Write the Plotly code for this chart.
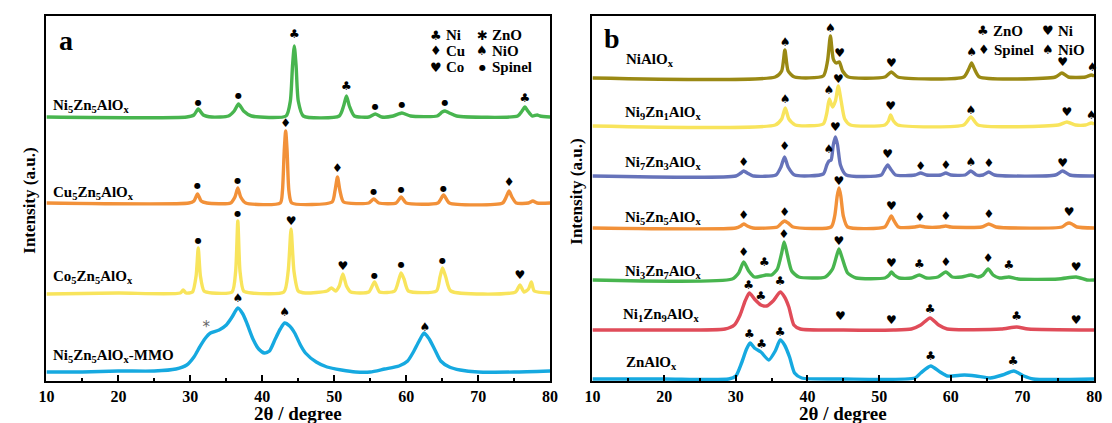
import plotly.graph_objects as go

# ---------------- Panel a data: (2θ, stacked intensity a.u.) ----------------
A_NI5 = [(10,264),(29.5,264),(30.5,266),(31.1,272),(31.8,266),(33,264),(35.3,265),(36.1,270),(36.7,277),(37.4,270),
         (38.5,265),(43.3,265),(43.9,280),(44.2,315),(44.45,335),(44.7,315),(45.0,280),(45.7,265),(50.7,265),(51.3,275),
         (51.7,285),(52.1,275),(52.8,265),(54.8,264),(55.7,267),(56.6,264),(58.2,265),(59.4,268),(60.6,265),(64.3,265),
         (65.0,269),(65.4,270),(66.0,268),(67.0,265),(75.5,265),(76.1,270),(76.5,274),(76.9,270),(77.5,265),(78.2,266),
         (78.6,265),(80,264)]
A_CU5 = [(10,178),(29.8,178),(30.5,180),(31.0,187),(31.5,180),(32.3,178),(35.6,178),(36.2,184),(36.6,193),(37.0,184),
         (37.7,178),(42.5,178),(42.8,190),(43.05,230),(43.25,250),(43.45,230),(43.7,190),(44.1,178),(49.7,179),(50.1,190),
         (50.45,204),(50.8,190),(51.3,179),(54.8,178),(55.5,182),(56.2,178),(58.6,178),(59.3,184),(60.0,178),(64.4,178),
         (65.2,186),(66.0,178),(73.4,178),(73.9,184),(74.3,190),(74.7,184),(75.3,178),(77.0,178),(77.6,180),(78.2,178),(80,178)]
A_CO5 = [(10,87),(20,88),(28.6,88),(29.0,91),(29.4,88),(30.3,89),(30.8,105),(31.1,133),(31.4,105),(31.9,90),(33,88),
         (35.8,89),(36.3,110),(36.6,160),(36.9,110),(37.4,90),(38.5,88),(43.0,89),(43.6,110),(44.0,152),(44.4,110),(45.0,90),
         (46,88),(49.0,90),(49.6,93),(50.2,90),(50.7,95),(51.2,107),(51.7,95),(52.3,89),(54.8,89),(55.6,99),(56.3,89),
         (58.4,90),(59.0,102),(59.3,108),(59.7,102),(60.3,90),(64.2,90),(64.7,104),(65.05,113),(65.5,104),(66.2,90),
         (75.2,89),(75.8,96),(76.4,89),(77.0,92),(77.4,99),(77.8,90),(80,88)]
A_MMO = [(10,9),(15,9),(20,10),(25,10),(28,12),(29.5,16),(30.5,24),(31.3,34),(32.0,42),(32.8,48),(34.0,51),(35.0,56),
         (35.8,64),(36.6,73),(37.3,67),(37.9,57),(38.7,42),(39.5,32),(40.3,28),(41.0,30),(41.8,42),(42.5,52),(43.1,58),
         (43.8,55),(44.5,48),(45.3,36),(46.0,28),(47.5,19),(49.0,14),(51,11),(53,9),(55,9),(57,12),(59,15),(60.2,20),
         (61.0,29),(61.8,40),(62.5,48),(63.2,42),(64.0,31),(64.8,20),(66.0,14),(67.5,11),(70,9),(75,9),(80,10)]

CLUB, DIAM, HEART, SPADE, DOT, STAR = "♣", "♦", "♥", "♠", "●", "*"

A_NI5_MK = [(DOT,31.1,278),(DOT,36.7,285),(CLUB,44.45,346),(CLUB,51.7,294),(DOT,55.7,274),(DOT,59.4,276),(DOT,65.4,278),(CLUB,76.5,282)]
A_CU5_MK = [(DOT,31.0,195),(DOT,36.6,200),(DIAM,43.25,257),(DIAM,50.45,212),(DOT,55.5,189),(DOT,59.3,191),(DOT,65.2,192),(DIAM,74.3,198)]
A_CO5_MK = [(DOT,31.1,140),(DOT,36.6,167),(HEART,44.0,159),(HEART,51.2,114),(DOT,55.6,105),(DOT,59.3,116),(DOT,65.05,120),(HEART,75.8,105)]
A_MMO_MK = [(SPADE,36.6,82),(SPADE,43.1,68),(SPADE,62.6,53)]
A_MMO_STAR = [(STAR,32.2,53)]

# ---------------- Panel b data ----------------
B_NI = [(10,303),(35.5,304),(36.4,310),(36.85,331),(37.3,310),(38.2,304),(42.2,305),(42.8,320),(43.2,345),(43.6,322),
        (44.0,318),(44.45,319),(44.9,310),(45.7,304),(50.8,304),(51.7,309),(52.6,304),(61.8,304),(62.5,312),(62.9,318),
        (63.3,312),(64.0,304),(74.6,304),(75.5,308),(76.4,304),(78.8,304),(79.6,306),(80,305)]
B_NI9 = [(10,255),(35.5,256),(36.4,262),(36.9,273),(37.4,262),(38.3,256),(42.2,257),(42.7,268),(43.05,282),(43.5,274),
         (43.9,280),(44.3,295),(44.7,280),(45.2,262),(46.0,256),(50.8,256),(51.3,260),(51.6,266),(52.0,260),(52.6,256),
         (61.8,256),(62.8,264),(63.8,256),(75.0,256),(76.2,259),(77.4,256),(78.8,256),(79.6,258),(80,257)]
B_NI7 = [(10,205),(30.0,205),(30.7,208),(31.1,210),(31.6,208),(32.5,205),(35.6,206),(36.3,214),(36.8,224),(37.3,214),
         (38.2,206),(42.2,207),(42.7,216),(43.0,220),(43.3,221),(43.6,236),(43.9,244),(44.2,236),(44.6,216),(45.4,206),
         (50.3,206),(50.8,212),(51.2,216),(51.6,212),(52.3,206),(55.0,206),(55.8,208),(56.6,206),(58.6,206),(59.3,208),
         (60.0,206),(62.0,206),(62.8,210),(63.6,206),(64.5,206),(65.3,209),(66.1,206),(74.6,206),(75.6,210),(76.6,206),(80,205)]
B_NI5 = [(10,153),(30.0,153),(30.7,155),(31.1,157),(31.6,155),(32.4,153),(35.8,154),(36.4,158),(36.8,160),(37.3,158),
         (38.0,154),(43.3,154),(43.8,165),(44.15,185),(44.4,193),(44.65,185),(45.0,165),(45.6,154),(50.8,154),(51.3,160),
         (51.7,165),(52.1,160),(52.7,154),(55.0,154),(55.7,155),(56.4,154),(58.5,154),(59.3,155),(60.0,154),(64.3,154),
         (65.3,157),(66.3,154),(75.5,154),(76.1,157),(76.5,158),(76.9,157),(77.6,154),(80,153)]
B_NI3 = [(10,101),(29.5,102),(30.4,108),(31.1,119),(31.8,110),(32.6,104),(33.6,105),(34.2,106),(35.0,106),(35.8,112),
         (36.4,128),(36.75,139),(37.2,126),(37.8,110),(38.8,104),(42.5,104),(43.5,112),(44.1,126),(44.4,132),(44.8,124),
         (45.6,108),(46.8,103),(50.8,103),(51.4,106),(51.7,109),(52.1,106),(52.8,103),(54.5,103),(55.6,106),(56.6,103),
         (58.2,104),(59.3,109),(60.2,104),(61.5,104),(62.8,106),(63.8,104),(64.5,106),(65.2,112),(65.9,106),(66.8,103),
         (68.1,104),(69.4,102),(75,102),(77.5,104),(79,101),(80,101)]
B_NI1 = [(10,51),(20,51),(28.5,52),(29.8,56),(30.6,66),(31.3,80),(31.9,88),(32.6,82),(33.5,76),(34.3,75),(35.2,80),
         (36.2,89),(36.8,84),(37.4,74),(38.1,56),(39.0,52),(45,51),(52,51),(54.5,52),(55.8,56),(57.1,63),(58.3,56),
         (59.5,52),(67,52),(69.2,54),(70.8,52),(80,51)]
B_ZN = [(10,2),(20,2),(29,2),(30,5),(30.8,18),(31.5,32),(32.0,38),(32.6,33),(33.5,29),(34.6,21),(35.5,30),(36.2,41),
        (36.8,36),(37.5,24),(38.2,8),(39.2,3),(45,2),(55,3),(55.8,8),(57.2,15),(58.5,9),(59.5,5),(61.9,6),(63.5,5),
        (65.5,3),(67.2,6),(68.8,10),(70.2,5),(71.5,2),(80,2)]

B_NI_MK = [(SPADE,36.9,338),(SPADE,43.2,352),(HEART,44.5,327),(HEART,51.7,317),(SPADE,62.9,328),(HEART,75.6,318),(SPADE,79.75,313)]
B_NI9_MK = [(SPADE,36.9,281),(SPADE,43.0,290),(HEART,44.3,301),(HEART,51.6,274),(SPADE,62.8,270),(HEART,76.2,268),(SPADE,79.6,265)]
B_NI7_MK = [(DIAM,31.1,218),(DIAM,36.8,234),(SPADE,43.0,231),(HEART,43.9,253),(HEART,51.2,226),(DIAM,55.8,214),
            (DIAM,59.3,215),(SPADE,62.8,218),(DIAM,65.3,217),(HEART,75.6,217)]
B_NI5_MK = [(DIAM,31.1,165),(DIAM,36.8,168),(HEART,44.4,199),(HEART,51.7,174),(DIAM,55.7,163),(DIAM,59.3,164),
            (DIAM,65.3,166),(HEART,76.5,168)]
B_NI3_MK = [(DIAM,31.1,128),(CLUB,34.0,118),(DIAM,36.7,146),(HEART,44.4,139),(HEART,51.7,117),(CLUB,55.6,116),
            (DIAM,59.3,118),(DIAM,65.2,122),(CLUB,68.1,115),(HEART,77.5,113)]
B_NI1_MK = [(CLUB,31.8,95),(CLUB,33.5,84),(CLUB,36.2,99),(HEART,44.6,64),(HEART,51.7,60),(CLUB,57.1,71),(CLUB,69.2,64),(HEART,77.5,60)]
B_ZN_MK = [(CLUB,31.9,46),(CLUB,33.6,36),(CLUB,36.2,48),(CLUB,57.2,24),(CLUB,68.7,19)]

# sample labels: (text, left edge px, centre y px)
A_LABELS = [("Ni<sub>5</sub>Zn<sub>5</sub>AlO<sub>x</sub>", 44, 106),
            ("Cu<sub>5</sub>Zn<sub>5</sub>AlO<sub>x</sub>", 44, 193),
            ("Co<sub>5</sub>Zn<sub>5</sub>AlO<sub>x</sub>", 44, 277),
            ("Ni<sub>5</sub>Zn<sub>5</sub>AlO<sub>x</sub>-MMO", 44, 356)]
B_LABELS = [("NiAlO<sub>x</sub>", 625, 60),
            ("Ni<sub>9</sub>Zn<sub>1</sub>AlO<sub>x</sub>", 624, 113),
            ("Ni<sub>7</sub>Zn<sub>3</sub>AlO<sub>x</sub>", 624, 163),
            ("Ni<sub>5</sub>Zn<sub>5</sub>AlO<sub>x</sub>", 624, 218),
            ("Ni<sub>3</sub>Zn<sub>7</sub>AlO<sub>x</sub>", 624, 272),
            ("Ni<sub>1</sub>Zn<sub>9</sub>AlO<sub>x</sub>", 622, 315),
            ("ZnAlO<sub>x</sub>", 625, 363)]

TICKS = [10, 20, 30, 40, 50, 60, 70, 80]
MINOR = [15, 25, 35, 45, 55, 65, 75]

SERIF = "Liberation Serif, Times New Roman, serif"
SYMF = "DejaVu Sans"

fig = go.Figure()

def add_line(pts, color, xa, ya):
    fig.add_trace(go.Scatter(x=[p[0] for p in pts], y=[p[1] for p in pts], mode="lines",
                             line=dict(color=color, width=3.4, shape="spline", smoothing=0.6),
                             xaxis=xa, yaxis=ya, showlegend=False, hoverinfo="skip"))

def add_marks(mk, xa, ya, color="black", size=12):
    sizes = [8 if m[0] == DOT else size for m in mk]
    fig.add_trace(go.Scatter(x=[m[1] for m in mk], y=[m[2] for m in mk], mode="text",
                             text=[m[0] for m in mk], textposition="middle center",
                             textfont=dict(family=SYMF, size=sizes, color=color),
                             xaxis=xa, yaxis=ya, showlegend=False, hoverinfo="skip", cliponaxis=False))

GREEN, ORANGE, YELLOW, CYAN = "#48b54f", "#f29139", "#f8e45c", "#16a9e0"
OLIVE, VIOLET, RED = "#9a8914", "#6673ba", "#e04c59"

add_line(A_NI5, GREEN, "x", "y")
add_line(A_CU5, ORANGE, "x", "y")
add_line(A_CO5, YELLOW, "x", "y")
add_line(A_MMO, CYAN, "x", "y")
for mk in (A_NI5_MK, A_CU5_MK, A_CO5_MK, A_MMO_MK):
    add_marks(mk, "x", "y")
add_marks(A_MMO_STAR, "x", "y", color="#666666", size=15)

add_line(B_NI, OLIVE, "x2", "y2")
add_line(B_NI9, YELLOW, "x2", "y2")
add_line(B_NI7, VIOLET, "x2", "y2")
add_line(B_NI5, ORANGE, "x2", "y2")
add_line(B_NI3, GREEN, "x2", "y2")
add_line(B_NI1, RED, "x2", "y2")
add_line(B_ZN, CYAN, "x2", "y2")
for mk in (B_NI_MK, B_NI9_MK, B_NI7_MK, B_NI5_MK, B_NI3_MK, B_NI1_MK, B_ZN_MK):
    add_marks(mk, "x2", "y2")

W, H = 1112, 423
def px(x): return x / W
def py(y): return (H - y) / H

xcommon = dict(range=[10, 80], tickvals=TICKS, ticks="inside", ticklen=6, tickwidth=2, tickcolor="black",
               minor=dict(tickvals=MINOR, ticks="inside", ticklen=3, tickwidth=2, tickcolor="black"),
               showline=True, mirror=True, linewidth=2, linecolor="black", showgrid=False, zeroline=False,
               tickfont=dict(family=SERIF, size=16, color="black", weight="bold"))
ycommon = dict(range=[0, 365], showticklabels=False, ticks="", showline=True, mirror=True, linewidth=2,
               linecolor="black", showgrid=False, zeroline=False)

fig.update_layout(
    width=W, height=H, margin=dict(l=0, r=0, t=0, b=0),
    paper_bgcolor="white", plot_bgcolor="white", showlegend=False,
    xaxis=dict(domain=[px(39), px(550)], anchor="y", **xcommon),
    yaxis=dict(domain=[py(381), py(16)], anchor="x", **ycommon),
    xaxis2=dict(domain=[px(593), px(1102)], anchor="y2", **xcommon),
    yaxis2=dict(domain=[py(381), py(16)], anchor="x2", **ycommon),
)

ann = []
tf = dict(family=SERIF, size=15, color="black", weight="bold")
for t, x, y in A_LABELS + B_LABELS:
    ann.append(dict(text=t, x=px(x), y=py(y), xref="paper", yref="paper", xanchor="left", yanchor="middle",
                    showarrow=False, font=tf))

# panel letters
ann.append(dict(text="a", x=px(50), y=py(40), xref="paper", yref="paper", xanchor="left", yanchor="middle",
                showarrow=False, font=dict(family=SERIF, size=28, color="black", weight="bold")))
ann.append(dict(text="b", x=px(603), y=py(38), xref="paper", yref="paper", xanchor="left", yanchor="middle",
                showarrow=False, font=dict(family=SERIF, size=28, color="black", weight="bold")))

# axis titles
for cx in (294.5, 847.5):
    ann.append(dict(text="2θ / degree", x=px(cx), y=py(413), xref="paper", yref="paper", xanchor="center",
                    yanchor="middle", showarrow=False, font=dict(family=SERIF, size=19, color="black", weight="bold")))
for cx, cy in ((21, 201), (576, 192)):
    ann.append(dict(text="Intensity (a.u.)", x=px(cx), y=py(cy), xref="paper", yref="paper", xanchor="center",
                    yanchor="middle", textangle=-90, showarrow=False,
                    font=dict(family=SERIF, size=17, color="black", weight="bold")))

# phase legends (symbol, text, x px, y px)
LEG_A = [(CLUB, "Ni", 434, 35), (DIAM, "Cu", 434, 51), (HEART, "Co", 434, 67),
         ("✱", "ZnO", 481, 35), (SPADE, "NiO", 481, 51), (DOT, "Spinel", 481, 67)]
LEG_B = [(CLUB, "ZnO", 989, 31), (DIAM, "Spinel", 990, 50), (HEART, "Ni", 1055, 31), (SPADE, "NiO", 1055, 50)]
lf = dict(family=SERIF, size=15, color="black", weight="bold")
for sym, t, x, y in LEG_A + LEG_B:
    ann.append(dict(text=sym, x=px(x), y=py(y), xref="paper", yref="paper", xanchor="center", yanchor="middle",
                    showarrow=False, font=dict(family=SYMF, size=8 if sym == DOT else 13, color="black")))
    ann.append(dict(text=t, x=px(x + 8), y=py(y), xref="paper", yref="paper", xanchor="left", yanchor="middle",
                    showarrow=False, font=lf))

fig.update_layout(annotations=ann)
fig.write_html("out.html")
